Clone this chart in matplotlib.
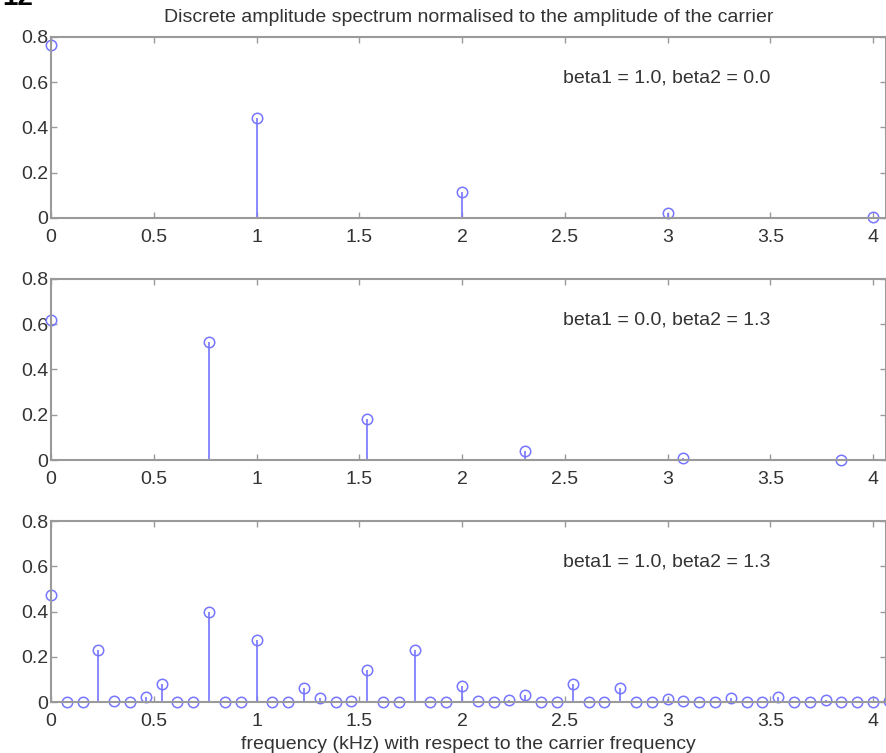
import numpy as np
import matplotlib
matplotlib.use("Agg")
import matplotlib.pyplot as plt

plt.rcParams["font.family"] = ["Liberation Sans", "DejaVu Sans"]

# carrier-relative frequencies (kHz) and normalised amplitudes
f_top = [0.0, 1.0, 2.0, 3.0, 4.0]
a_top = [0.765, 0.440, 0.115, 0.020, 0.0025]

f_mid = [0.0, 0.769, 1.538, 2.308, 3.077, 3.846]
a_mid = [0.620, 0.522, 0.183, 0.041, 0.007, 0.001]

# both modulators together: bins 1/13 kHz apart
f_step = 1 / 13
a_both = [
    0.474, 0.000, 0.000, 0.230, 0.005, 0.000, 0.021, 0.080, 0.000, 0.001,
    0.399, 0.000, 0.000, 0.273, 0.001, 0.000, 0.060, 0.018, 0.000, 0.004,
    0.140, 0.000, 0.000, 0.230, 0.000, 0.000, 0.071, 0.003, 0.000, 0.010,
    0.032, 0.000, 0.001, 0.080, 0.000, 0.000, 0.060, 0.000, 0.000, 0.012,
    0.005, 0.000, 0.001, 0.018, 0.000, 0.000, 0.021, 0.000, 0.000, 0.010,
    0.001, 0.000, 0.002, 0.003,
]
f_both = np.arange(len(a_both)) * f_step

labels = ["beta1 = 1.0, beta2 = 0.0",
          "beta1 = 0.0, beta2 = 1.3",
          "beta1 = 1.0, beta2 = 1.3"]

STEM = "#7676ff"
FRAME = "#9a9a9a"
TEXT = "#333333"
FS = 14

fig = plt.figure(figsize=(8.87, 7.53), dpi=100)
# page number, mostly above the top edge
fig.text(0.002, 1 - 5 / 753, "12", fontsize=20, fontweight="bold",
         color="black", va="baseline", ha="left")

panels = [(f_top, a_top), (f_mid, a_mid), (f_both, a_both)]
bottoms = [0.7105, 0.3891, 0.0677]
axes = []
for (f, a), bottom, label in zip(panels, bottoms, labels):
    ax = fig.add_axes([0.0575, bottom, 0.9414, 0.2404])
    markers, stems, base = ax.stem(f, a, linefmt="-", markerfmt="o",
                                   basefmt="-")
    plt.setp(stems, color=STEM, linewidth=1.2)
    plt.setp(markers, color=STEM, markerfacecolor="none", markersize=7.5,
             markeredgewidth=1.1, clip_on=False)
    plt.setp(base, color="#a8a8a8", linewidth=1.2)
    ax.set_xlim(0, 4.063)
    ax.set_ylim(0, 0.8)
    ax.set_xticks(np.arange(0, 4.01, 0.5))
    ax.set_xticklabels(["0", "0.5", "1", "1.5", "2", "2.5", "3", "3.5", "4"])
    ax.set_yticks([0, 0.2, 0.4, 0.6, 0.8])
    ax.set_yticklabels(["0", "0.2", "0.4", "0.6", "0.8"])
    ax.tick_params(direction="in", top=True, right=True, length=4,
                   width=1, color=FRAME, labelsize=FS, labelcolor=TEXT)
    ax.tick_params(axis="x", pad=8)
    ax.tick_params(axis="y", pad=2)
    for sp in ax.spines.values():
        sp.set_color(FRAME)
        sp.set_linewidth(1.5)
    ax.text(2.49, 0.62, label, fontsize=FS, color=TEXT, ha="left",
            va="center")
    axes.append(ax)

axes[0].set_title("Discrete amplitude spectrum normalised to the amplitude "
                  "of the carrier", fontsize=FS, color=TEXT, pad=11)
axes[2].set_xlabel("frequency (kHz) with respect to the carrier frequency",
                   fontsize=FS, color=TEXT, labelpad=4)

fig.savefig("out.png", dpi=100, facecolor="white")
